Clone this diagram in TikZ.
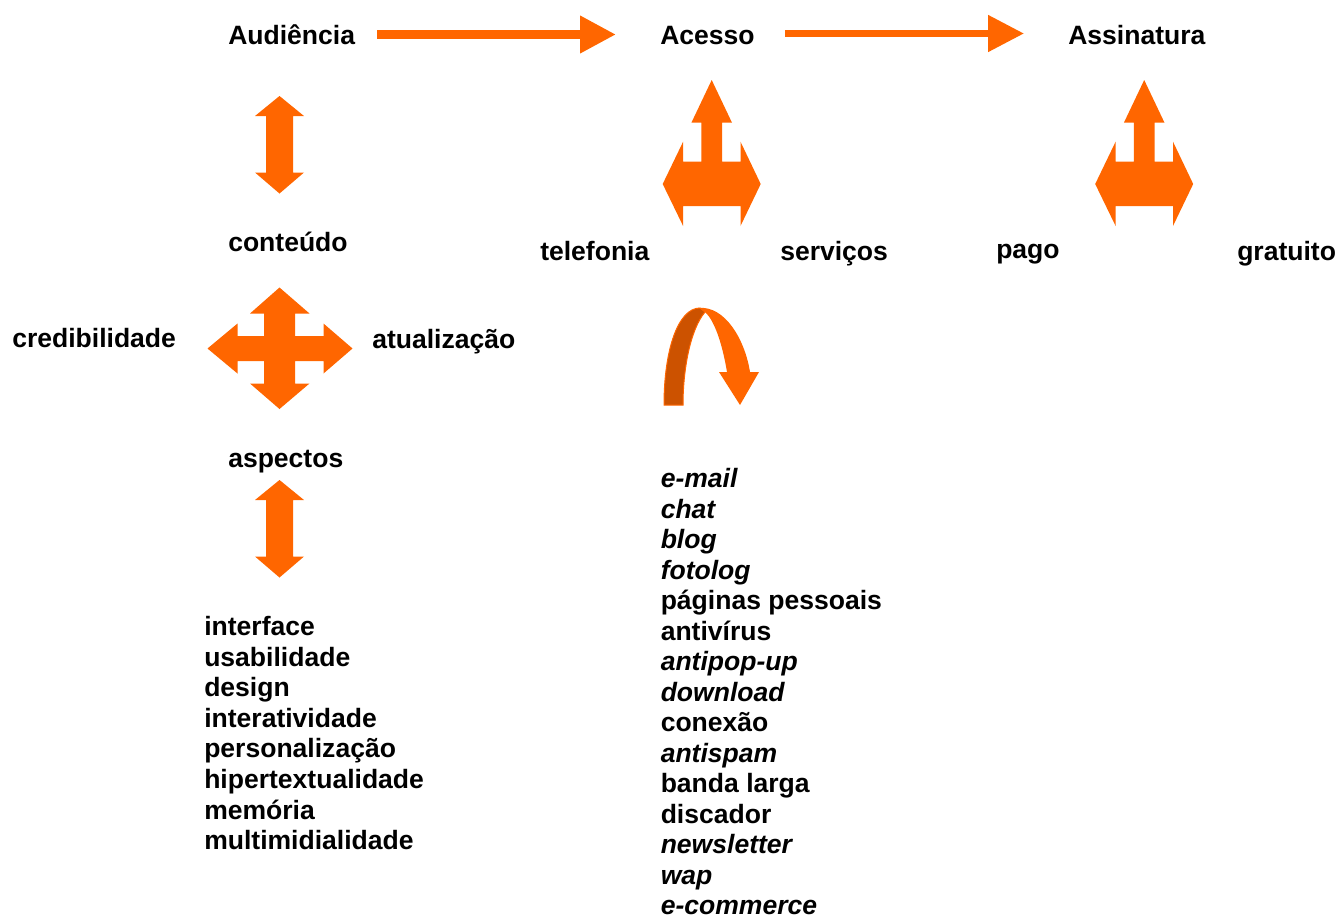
\documentclass[tikz,border=0pt]{standalone}
\usepackage{fontspec}
\setmainfont{Liberation Sans}
\usetikzlibrary{arrows.meta}
\definecolor{org}{HTML}{FF6600}
\definecolor{orgdark}{HTML}{CC5200}
\tikzset{
  lbl/.style={font=\fontsize{19.9}{23}\selectfont\bfseries, inner sep=0pt, anchor=base west},
  itl/.style={lbl, font=\fontsize{19.9}{23}\selectfont\bfseries\itshape},
  flow/.style={draw=org, -{Triangle[length=27pt,width=26.5pt]}},
  block/.style={fill=org},
  threeway/.pic={
    \fill[block] (0,80) -- (20.3,122.7) -- (10.3,122.7) -- (10.3,161.7) -- (28.8,161.7)
      -- (28.8,141.7) -- (49,184) -- (28.8,226) -- (28.8,206) -- (-28.6,206) -- (-28.6,226)
      -- (-49,184) -- (-28.6,141.7) -- (-28.6,161.7) -- (-10.3,161.7) -- (-10.3,122.7)
      -- (-20.3,122.7) -- cycle;
  },
  updown/.pic={
    \fill[block] (0,0) -- (24.5,20) -- (13.5,20) -- (13.5,76.5) -- (24.5,76.5) -- (0,97.5)
      -- (-24.5,76.5) -- (-13.5,76.5) -- (-13.5,20) -- (-24.5,20) -- cycle;
  }
}
\begin{document}
\begin{tikzpicture}[x=0.75pt,y=-0.75pt]
\useasboundingbox (0,0) rectangle (1336,918);

% top row
\node[lbl] (aud) at (228,44.5) {Audiência};
\node[lbl] (acc) at (660,44.5) {Acesso};
\node[lbl] (ass) at (1068,44.5) {Assinatura};

\draw[flow, line width=6.75pt, shorten <=16.5pt, shorten >=33pt] (aud.east |- 0,34.5) -- (acc.west |- 0,34.5);
\draw[flow, line width=5.25pt, shorten <=22.5pt, shorten >=33pt] (acc.east |- 0,33.5) -- (ass.west |- 0,33.5);

% left column
\node[lbl] (cont) at (228,251.5) {conteúdo};
\node[lbl] (cred) at (12,347.5) {credibilidade};
\node[lbl] (atu) at (372,348) {atualização};
\node[lbl] (asp) at (228,467.5) {aspectos};

\pic at (279.5,96) {updown};
\pic at (279.5,480) {updown};

\fill[block] (279.5,287.5) -- (309.5,313.5) -- (295,313.5) -- (295,336) -- (323.5,336)
  -- (323.5,323.5) -- (352.5,348.5) -- (323.5,373.5) -- (323.5,361) -- (295,361)
  -- (295,383.5) -- (309.5,383.5) -- (279.5,409) -- (250,383.5) -- (264,383.5)
  -- (264,361) -- (237.5,361) -- (237.5,373.5) -- (207.5,348.5) -- (237.5,323.5)
  -- (237.5,336) -- (264,336) -- (264,313.5) -- (250,313.5) -- cycle;

\foreach \t [count=\i] in {interface, usabilidade, design, interatividade,
  personalização, hipertextualidade, memória, multimidialidade}
  \node[lbl] (a\i) at (204,{635.5+30.6*(\i-1)}) {\t};

% middle column
\pic at (711.7,0) {threeway};
\node[lbl] (tel) at (540,260.5) {telefonia};
\node[lbl] (serv) at (780,260.5) {serviços};

\fill[block] (698,308) .. controls (725,305) and (745,340) .. (750,372) -- (759,372)
  -- (740,405) -- (719,372) -- (727,372) .. controls (722,342) and (714,320) .. (705,312) -- cycle;
\filldraw[fill=orgdark, draw=org, line width=0.75pt] (664,405) .. controls (664,350) and (678,308) .. (700,308)
  -- (705,312) .. controls (690,330) and (683,370) .. (683,405) -- cycle;

\foreach \t/\s [count=\i] in {e-mail/itl, chat/itl, blog/itl, fotolog/itl,
  páginas pessoais/lbl, antivírus/lbl, antipop-up/itl, download/itl, conexão/lbl,
  antispam/itl, banda larga/lbl, discador/lbl, newsletter/itl, wap/itl, e-commerce/itl}
  \node[\s] (s\i) at (660.5,{487.8+30.5*(\i-1)}) {\t};

% right column
\pic at (1144.2,0) {threeway};
\node[lbl] (pago) at (996,258.5) {pago};
\node[lbl] (grat) at (1237,260.5) {gratuito};
\end{tikzpicture}
\end{document}
